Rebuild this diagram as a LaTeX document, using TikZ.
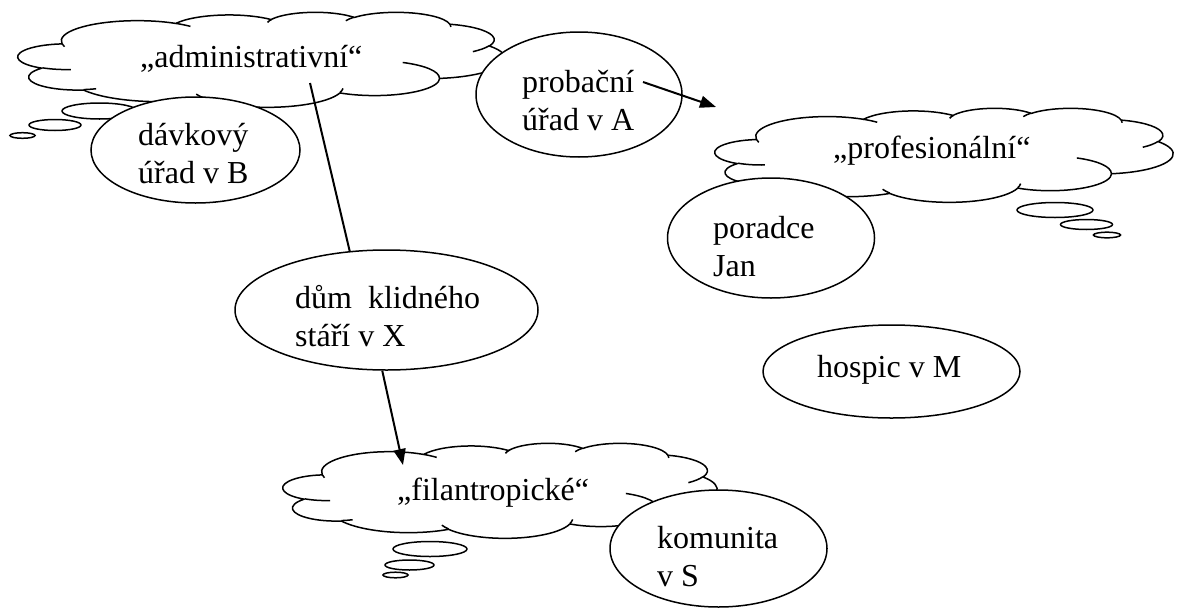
\documentclass[tikz,border=0pt]{standalone}
\usepackage{fontspec}
\setmainfont{Liberation Serif}
\usetikzlibrary{arrows.meta,shapes.geometric}

\tikzset{
  cloudline/.style={line width=1.5pt, line join=round},
  bubble/.style={draw, line width=1.5pt, fill=white},
  oval/.style={ellipse, draw, line width=1.5pt, fill=white, inner sep=0pt},
  lbl/.style={anchor=base west, inner sep=0pt, font=\fontsize{32}{38}\selectfont},
  conn/.style={line width=2pt},
  arr/.style={line width=2pt, -{Triangle[length=16pt,width=12pt]}},
}

\newcommand\twol[2]{\begin{tabular}[t]{@{}l@{}}#1\\#2\end{tabular}}

% Word-style cloud in a box: left, top, width, height (y grows downwards)
\newcommand\mycloud[4]{%
 \begin{scope}[shift={(#1,#2)}, x=1pt, y=1pt, xscale=#3/432, yscale=-#4/432]
   \filldraw[cloudline, fill=white] (39.00,143.70)
     arc[start angle=-187.75, end angle=-59.64, x radius=67.53, y radius=91.90]
     arc[start angle=-152.02, end angle=-45.44, x radius=53.33, y radius=72.67]
     arc[start angle=-153.49, end angle=-37.32, x radius=43.65, y radius=59.45]
     arc[start angle=-139.72, end angle=-10.22, x radius=48.57, y radius=65.95]
     arc[start angle=-74.77, end angle=23.21, x radius=53.33, y radius=72.73]
     arc[start angle=-37.53, end angle=81.86, x radius=67.75, y radius=92.20]
     arc[start angle=0.46, end angle=121.98, x radius=57.85, y radius=78.67]
     arc[start angle=16.85, end angle=146.23, x radius=67.52, y radius=92.15]
     arc[start angle=58.98, end angle=150.19, x radius=77.20, y radius=105.43]
     arc[start angle=83.31, end angle=223.12, x radius=43.60, y radius=59.18]
     arc[start angle=120.36, end angle=264.11, x radius=43.45, y radius=59.45]
     -- cycle;
   \draw[cloudline]
     (46.93,261.77) arc[start angle=85.54, end angle=120.36, x radius=43.45, y radius=59.45]
     (69.28,348.99) arc[start angle=68.24, end angle=83.31, x radius=43.60, y radius=59.18]
     (164.78,390.90) arc[start angle=146.23, end angle=158.47, x radius=67.52, y radius=92.15]
     (288.27,347.51) arc[start angle=4.73, end angle=16.85, x radius=67.52, y radius=92.15]
     (341.29,229.54) arc[start angle=-64.03, end angle=0.46, x radius=57.85, y radius=78.67]
     (417.98,153.54) arc[start angle=23.21, end angle=49.64, x radius=53.33, y radius=72.73]
     (383.24,55.26) arc[start angle=-10.22, end angle=0.82, x radius=48.57, y radius=65.95]
     (290.78,39.52) arc[start angle=-156.29, end angle=-139.72, x radius=48.57, y radius=65.95]
     (221.41,47.20) arc[start angle=-167.72, end angle=-153.49, x radius=43.65, y radius=59.45]
     (140.00,51.92) arc[start angle=-59.64, end angle=-45.76, x radius=67.53, y radius=91.90]
     (41.27,157.89) arc[start angle=163.19, end angle=172.25, x radius=67.53, y radius=91.90];
 \end{scope}}

\begin{document}
\begin{tikzpicture}[x=1pt, y=-1pt]
\useasboundingbox (0,0) rectangle (1180,608);

% clouds with their thought bubbles
\mycloud{18}{12}{487}{95}
\draw[bubble] (99.5,111) ellipse [x radius=37.5, y radius=8];
\draw[bubble] (55,125) ellipse [x radius=26, y radius=5.5];
\draw[bubble] (22.5,135.5) ellipse [x radius=12.5, y radius=2.8];

\mycloud{715}{108}{458}{94}
\draw[bubble] (1055,210) ellipse [x radius=38, y radius=7.5];
\draw[bubble] (1086.5,224.5) ellipse [x radius=26, y radius=5];
\draw[bubble] (1107,235) ellipse [x radius=13.5, y radius=2.8];

\mycloud{283}{443}{434}{95}
\draw[bubble] (430,549) ellipse [x radius=37, y radius=7.5];
\draw[bubble] (409.5,565) ellipse [x radius=24.5, y radius=5];
\draw[bubble] (395.5,575) ellipse [x radius=12.5, y radius=2.8];

% ellipses
\node[oval, minimum width=209pt, minimum height=106pt] (davk) at (195.5,150) {};
\node[oval, minimum width=206pt, minimum height=125pt] (prob) at (579,94.5) {};
\node[oval, minimum width=207pt, minimum height=120pt] (por) at (771,238) {};
\node[oval, minimum width=257pt, minimum height=93pt] (hosp) at (891.5,371.5) {};
\node[oval, minimum width=303pt, minimum height=120pt] (dum) at (386.5,310) {};
\node[oval, minimum width=217pt, minimum height=117pt] (kom) at (718.5,548.5) {};

% texts
\node[lbl] (tadm) at (140,67) {„administrativní“};
\node[lbl] (tprof) at (833,158) {„profesionální“};
\node[lbl] (tfil) at (397,500) {„filantropické“};
\node[lbl] (tdavk) at (138,145) {\twol{dávkový}{úřad v B}};
\node[lbl] (tprob) at (522,92) {\twol{probační}{úřad v A}};
\node[lbl] (tpor) at (713,238) {\twol{poradce}{Jan}};
\node[lbl] (thosp) at (817,377) {hospic v M};
\node[lbl] (tdum) at (295,308) {\twol{dům\ \ klidného}{stáří v X}};
\node[lbl] (tkom) at (657,548) {\twol{komunita}{v S}};

% connector ends
\coordinate (adminfoot) at (310,83);
\coordinate (filtop) at (403,465);
\coordinate (probstart) at (643,82);
\coordinate (proftip) at (716,107);

% connectors
\draw[conn] (adminfoot) -- (dum.122);
\draw[arr] (dum.266) -- (filtop);
\draw[arr] (probstart) -- (proftip);
\end{tikzpicture}
\end{document}
